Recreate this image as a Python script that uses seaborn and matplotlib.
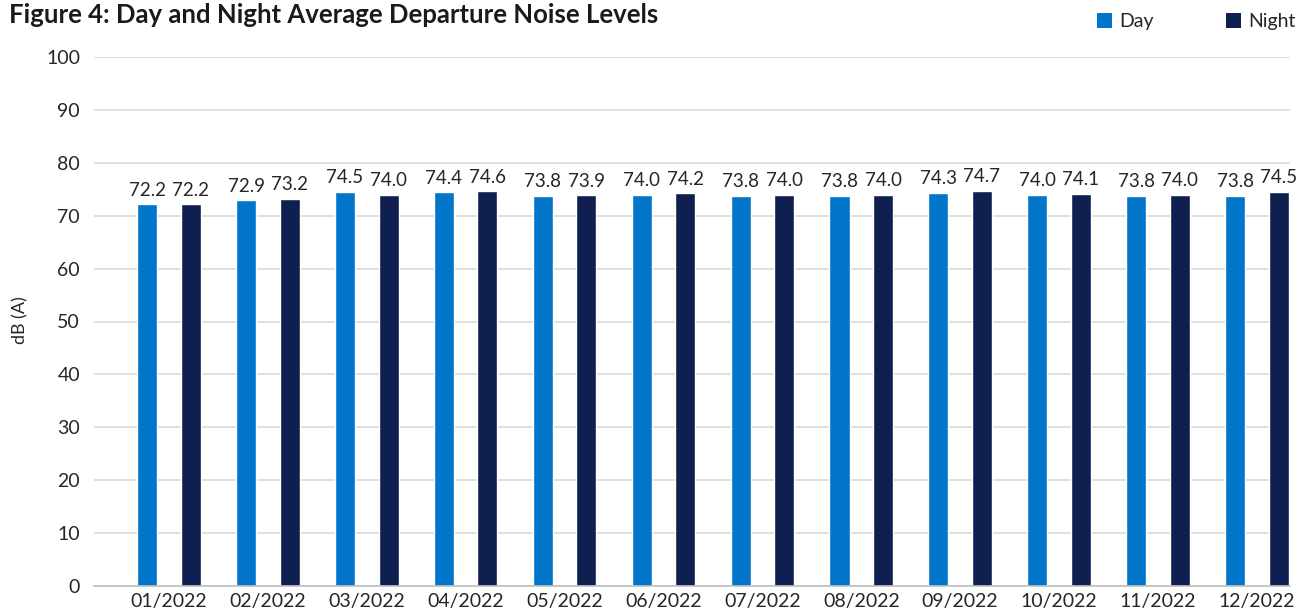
import matplotlib
matplotlib.use("Agg")
import matplotlib.pyplot as plt
import seaborn as sns
import pandas as pd
from matplotlib.patches import Rectangle

months = ["01/2022", "02/2022", "03/2022", "04/2022", "05/2022", "06/2022",
          "07/2022", "08/2022", "09/2022", "10/2022", "11/2022", "12/2022"]
day = [72.2, 72.9, 74.5, 74.4, 73.8, 74.0, 73.8, 73.8, 74.3, 74.0, 73.8, 73.8]
night = [72.2, 73.2, 74.0, 74.6, 73.9, 74.2, 74.0, 74.0, 74.7, 74.1, 74.0, 74.5]
series = ["Day", "Night"]
colors = ["#0075C9", "#0F1F4F"]

df = pd.DataFrame({
    "month": months * 2,
    "value": day + night,
    "series": [series[0]] * len(months) + [series[1]] * len(months),
})

sns.set_theme(style="white")
plt.rcParams["font.family"] = ["Lato", "DejaVu Sans"]
text_color = "#262626"

W, H = 1299, 613
fig = plt.figure(figsize=(W / 100, H / 100), dpi=100)
ax = fig.add_axes([94 / W, 27 / H, 1195.5 / W, 529 / H])

sns.barplot(data=df, x="month", y="value", hue="series", order=months,
            hue_order=series, palette=colors, width=0.88, gap=0.54,
            ax=ax, legend=False, saturation=1)

for cont in ax.containers:
    ax.bar_label(cont, fmt="%.1f", padding=4, fontsize=13.5, color=text_color)

ax.set_ylim(0, 100)
ax.set_yticks(range(0, 101, 10))
ax.set_xlim(-0.758, 11.33)
ax.yaxis.grid(True, color="#d9d9d9", linewidth=1.2)
ax.set_axisbelow(True)
for s in ["top", "right", "left"]:
    ax.spines[s].set_visible(False)
ax.spines["bottom"].set_color("#bfbfbf")
ax.spines["bottom"].set_linewidth(1.2)
ax.tick_params(axis="both", length=0, labelsize=14, colors=text_color)
ax.tick_params(axis="y", pad=10)
ax.tick_params(axis="x", pad=5)
ax.set_xlabel("")
ax.set_ylabel("")

fig.text(20 / W, 1 - 320 / H, "dB (A)", rotation=90, fontsize=13,
         color=text_color, ha="center", va="center")

fig.text(9 / W, 1 - 15 / H, "Figure 4: Day and Night Average Departure Noise Levels",
         fontsize=18.5, fontweight="bold", color="#1a1a1a", ha="left", va="center")

# legend
leg_items = [(1097, 1119), (1226, 1248)]
for (sx, tx), s, c in zip(leg_items, series, colors):
    fig.patches.append(Rectangle((sx / W, 1 - 28 / H), 15 / W, 15 / H,
                                 transform=fig.transFigure, facecolor=c,
                                 edgecolor="none"))
    fig.text(tx / W, 1 - 21 / H, s, fontsize=14, color=text_color,
             ha="left", va="center")

fig.savefig("out.png", dpi=100)
